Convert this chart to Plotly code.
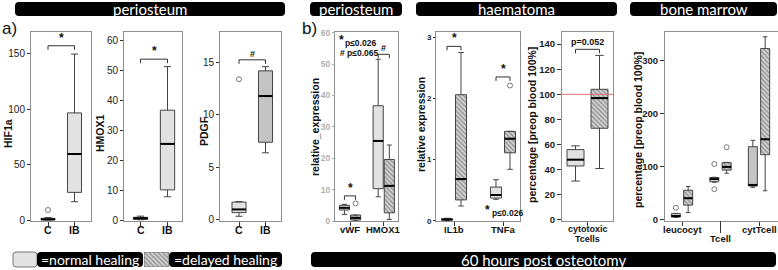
import plotly.graph_objects as go

W, H = 778, 270

# ---------------- data ----------------
# a) periosteum, C vs IB
a_cats = ["C", "IB"]
hif1a_lo = [0.0, 16.5]
hif1a_q1 = [0.2, 24.9]
hif1a_med = [0.6, 59.5]
hif1a_q3 = [1.5, 96.5]
hif1a_hi = [2.2, 149.5]
hif1a_out = [[9.0], []]

hmoxa_lo = [0.1, 7.8]
hmoxa_q1 = [0.2, 10.1]
hmoxa_med = [0.6, 25.5]
hmoxa_q3 = [0.9, 36.8]
hmoxa_hi = [1.3, 51.4]
hmoxa_out = [[], []]

pdgf_lo = [0.35, 6.4]
pdgf_q1 = [0.7, 7.4]
pdgf_med = [1.0, 11.8]
pdgf_q3 = [1.7, 14.2]
pdgf_hi = [1.75, 14.6]
pdgf_out = [[13.4], []]

# b) normal vs delayed healing
peri_cats = ["vWF", "HMOX1"]
peri_norm_lo = [2.1, 7.7]
peri_norm_q1 = [3.5, 10.3]
peri_norm_med = [4.2, 25.5]
peri_norm_q3 = [5.0, 36.7]
peri_norm_hi = [5.3, 51.5]
peri_norm_out = [[], []]
peri_del_lo = [0.1, 0.5]
peri_del_q1 = [0.3, 2.6]
peri_del_med = [1.0, 11.2]
peri_del_q3 = [1.9, 19.6]
peri_del_hi = [1.9, 24.2]
peri_del_out = [[5.6], []]

haem_cats = ["IL1b", "TNFa"]
haem_norm_lo = [0.0, 0.35]
haem_norm_q1 = [0.01, 0.37]
haem_norm_med = [0.02, 0.42]
haem_norm_q3 = [0.03, 0.55]
haem_norm_hi = [0.04, 0.67]
haem_norm_out = [[], []]
haem_del_lo = [0.24, 0.84]
haem_del_q1 = [0.34, 1.11]
haem_del_med = [0.68, 1.34]
haem_del_q3 = [2.06, 1.46]
haem_del_hi = [2.75, 1.46]
haem_del_out = [[], [2.21]]

cyto_cats = ["cytotoxic<br>Tcells"]
cyto_norm_lo = [31]
cyto_norm_q1 = [43]
cyto_norm_med = [48]
cyto_norm_q3 = [56]
cyto_norm_hi = [59]
cyto_norm_out = [[]]
cyto_del_lo = [41]
cyto_del_q1 = [73]
cyto_del_med = [97]
cyto_del_q3 = [104]
cyto_del_hi = [131]
cyto_del_out = [[]]

bm_cats = ["leucocyt", "Tcell", "cytTcell"]
bm_norm_lo = [5, 71, 61.5]
bm_norm_q1 = [5.5, 72, 64]
bm_norm_med = [7.5, 77, 66]
bm_norm_q3 = [12, 80, 138]
bm_norm_hi = [12.5, 80.5, 150]
bm_norm_out = [[23], [105.5, 58], []]
bm_del_lo = [14, 88, 55]
bm_del_q1 = [28, 94, 123]
bm_del_med = [41, 100, 152]
bm_del_q3 = [56, 108, 323]
bm_del_hi = [63, 108.5, 345]
bm_del_out = [[], [137], []]

# ---------------- layout helpers ----------------
def px(x):
    return x / W

def py(y):
    return 1 - y / H

TOP, BOT = 32, 221
YDOM = [py(BOT), py(TOP)]

fig = go.Figure()
layout = dict(
    width=W, height=H, margin=dict(l=0, r=0, t=0, b=0, pad=0),
    paper_bgcolor="white", plot_bgcolor="white", showlegend=False,
    barmode="overlay", boxmode="overlay",
    font=dict(family="Liberation Sans", color="#222"),
)
shapes, annos = [], []

FRAME = "#8f8f8f"
LIGHT = "#e2e2e2"
DARK = "#c4c4c4"
HATCH = dict(shape="\\", fgcolor="#4a4a4a", bgcolor="#d4d4d4", size=3.2, solidity=0.42)


def axis_names(i):
    return ("x" if i == 1 else f"x{i}"), ("y" if i == 1 else f"y{i}")


def xlabel(xa, x, text, ypx, size):
    annos.append(dict(x=x, y=py(ypx), xref=xa, yref="paper", text=f"<b>{text}</b>",
                      showarrow=False, xanchor="center", yanchor="middle",
                      font=dict(size=size, color="#111")))


def setup_axes(i, L, R, c0, s, yr, ytick, cats, tickbold=True, ycol="#222",
               xfs=10, yfs=10, yticklen=4, label_rows=None, line_gap=8.5):
    xa, ya = axis_names(i)
    tv = list(range(len(cats)))
    layout["xaxis" if i == 1 else f"xaxis{i}"] = dict(
        domain=[px(L), px(R)], range=[(L - c0) / s, (R - c0) / s], anchor=ya,
        showline=True, mirror=True, linecolor=FRAME, linewidth=1,
        showgrid=False, zeroline=False, ticks="outside", ticklen=4, tickcolor="#333",
        tickvals=tv, showticklabels=False, fixedrange=True, automargin=False,
    )
    layout["yaxis" if i == 1 else f"yaxis{i}"] = dict(
        domain=YDOM, range=yr, anchor=xa,
        showline=True, mirror=True, linecolor=FRAME, linewidth=1,
        showgrid=False, zeroline=False, ticks="outside", ticklen=yticklen,
        tickcolor=ycol if ycol != "#222" else "#333",
        tickvals=ytick, ticktext=[(f"<b>{t}</b>" if tickbold else str(t)) for t in ytick],
        tickfont=dict(size=yfs, color=ycol), fixedrange=True, automargin=False,
    )
    for k, c in enumerate(cats):
        rows = c.split("<br>")
        base = 229.5 if label_rows is None else label_rows[k]
        for r, t in enumerate(rows):
            xlabel(xa, k, t, base + r * line_gap, xfs if len(rows) == 1 else xfs - 0.5)
    return xa, ya, (BOT - TOP) / (yr[1] - yr[0])


def add_box(xa, ya, pos, w, lo, q1, med, q3, hi, out, style):
    if style == "hatch":
        fig.add_trace(go.Bar(
            x=[pos], y=[q3 - q1], base=[q1], width=[w], xaxis=xa, yaxis=ya,
            marker=dict(color="#d4d4d4", line=dict(width=0), pattern=HATCH),
            hoverinfo="skip"))
        fill = "rgba(0,0,0,0)"
    else:
        fill = LIGHT if style == "normal" else DARK
    fig.add_trace(go.Box(
        x=[pos], q1=[q1], median=[med], q3=[q3], lowerfence=[lo], upperfence=[hi],
        width=w, whiskerwidth=0.5, fillcolor=fill, xaxis=xa, yaxis=ya,
        line=dict(color="#444", width=1), boxpoints=False, hoverinfo="skip"))
    fig.add_trace(go.Scatter(
        x=[pos - w / 2, pos + w / 2], y=[med, med], mode="lines", xaxis=xa, yaxis=ya,
        line=dict(color="#000", width=2), hoverinfo="skip"))
    if out:
        fig.add_trace(go.Scatter(
            x=[pos] * len(out), y=out, mode="markers", xaxis=xa, yaxis=ya,
            marker=dict(symbol="circle-open", size=5, color="#777", line=dict(width=1)),
            hoverinfo="skip"))


def bracket(xa, ya, x0, x1, y, ppu, text, fs=12, dy=-1):
    leg = 4 / ppu
    shapes.append(dict(type="path", xref=xa, yref=ya,
                       path=f"M {x0},{y - leg} L {x0},{y} L {x1},{y} L {x1},{y - leg}",
                       line=dict(color="#333", width=1)))
    annos.append(dict(x=(x0 + x1) / 2, y=y, xref=xa, yref=ya, text=f"<b>{text}</b>",
                      showarrow=False, yanchor="bottom", yshift=dy,
                      font=dict(size=fs, color="#111")))


def ytitle(x, y, text, size=10.5):
    annos.append(dict(x=px(x), y=py(y), xref="paper", yref="paper", text=f"<b>{text}</b>",
                      textangle=-90, showarrow=False, xanchor="center", yanchor="middle",
                      font=dict(size=size, color="#111")))


def rrect(x0, y0, x1, y1, fill, r=4, line=None):
    rx, ry = r / W, r / H
    X0, X1, Y0, Y1 = px(x0), px(x1), py(y1), py(y0)
    path = (f"M {X0 + rx},{Y0} L {X1 - rx},{Y0} Q {X1},{Y0} {X1},{Y0 + ry} "
            f"L {X1},{Y1 - ry} Q {X1},{Y1} {X1 - rx},{Y1} L {X0 + rx},{Y1} "
            f"Q {X0},{Y1} {X0},{Y1 - ry} L {X0},{Y0 + ry} Q {X0},{Y0} {X0 + rx},{Y0} Z")
    shapes.append(dict(type="path", xref="paper", yref="paper", path=path,
                       fillcolor=fill, line=line or dict(width=0)))


def banner(x0, x1, y0, y1, text, size=15):
    rrect(x0, y0, x1, y1, "black")
    annos.append(dict(x=px((x0 + x1) / 2), y=py((y0 + y1) / 2), xref="paper", yref="paper",
                      text=text, showarrow=False, xanchor="center", yanchor="middle",
                      font=dict(family="Lato", size=size, color="white")))


# ---------------- panel a ----------------
a_specs = [
    (1, 31, 91, 48, 26.5, [-0.9, 169.4], [0, 50, 100, 150],
     (hif1a_lo, hif1a_q1, hif1a_med, hif1a_q3, hif1a_hi, hif1a_out), ["normal", "normal"], 157, "*", 12),
    (2, 124, 182, 140.5, 27, [-0.33, 63.0], [0, 10, 20, 30, 40, 50, 60],
     (hmoxa_lo, hmoxa_q1, hmoxa_med, hmoxa_q3, hmoxa_hi, hmoxa_out), ["normal", "normal"], 53.9, "*", 12),
    (3, 220, 281, 239, 26.5, [-0.1, 17.9], [0, 5, 10, 15],
     (pdgf_lo, pdgf_q1, pdgf_med, pdgf_q3, pdgf_hi, pdgf_out), ["normal", "dark"], 15.25, "#", 9),
]
for (i, L, R, c0, s, yr, yt, d, styles, by, bt, bfs) in a_specs:
    xa, ya, ppu = setup_axes(i, L, R, c0, s, yr, yt, a_cats, tickbold=False, xfs=10.5,
                             yfs=10, yticklen=3)
    for k in range(len(a_cats)):
        add_box(xa, ya, k, 0.53, d[0][k], d[1][k], d[2][k], d[3][k], d[4][k], d[5][k], styles[k])
    bracket(xa, ya, 0, 1, by, ppu, bt, bfs)

ytitle(8, 134, "HIF1a")
ytitle(100, 133, "HMOX1")
ytitle(204, 131, "PDGF")

# ---------------- panel b ----------------
b_specs = [
    (4, 335, 398, 350, 33.75, [0, 60.2], [0, 10, 20, 30, 40, 50, 60], peri_cats,
     (peri_norm_lo, peri_norm_q1, peri_norm_med, peri_norm_q3, peri_norm_hi, peri_norm_out),
     (peri_del_lo, peri_del_q1, peri_del_med, peri_del_q3, peri_del_hi, peri_del_out),
     0.165, 0.3, ["normal", "normal"], "#b0b0b0", 8.5, 2, None),
    (5, 436, 520, 454, 49, [-0.005, 3.085], [0, 1, 2, 3], haem_cats,
     (haem_norm_lo, haem_norm_q1, haem_norm_med, haem_norm_q3, haem_norm_hi, haem_norm_out),
     (haem_del_lo, haem_del_q1, haem_del_med, haem_del_q3, haem_del_hi, haem_del_out),
     0.143, 0.225, ["normal", "normal"], "#222", 8, 2, None),
    (6, 562, 613, 587.5, 50, [-0.8, 149.6], [0, 20, 40, 60, 80, 100, 120, 140], cyto_cats,
     (cyto_norm_lo, cyto_norm_q1, cyto_norm_med, cyto_norm_q3, cyto_norm_hi, cyto_norm_out),
     (cyto_del_lo, cyto_del_q1, cyto_del_med, cyto_del_q3, cyto_del_hi, cyto_del_out),
     0.24, 0.34, ["normal"], "#222", 9.5, 4, [229]),
    (7, 665, 778, 682, 38.5, [-1.9, 354], [0, 100, 200, 300], bm_cats,
     (bm_norm_lo, bm_norm_q1, bm_norm_med, bm_norm_q3, bm_norm_hi, bm_norm_out),
     (bm_del_lo, bm_del_q1, bm_del_med, bm_del_q3, bm_del_hi, bm_del_out),
     0.16, 0.234, ["normal", "normal", "dark"], "#222", 9.5, 4, [229.5, 238.5, 229.5]),
]
axes_b = {}
for (i, L, R, c0, s, yr, yt, cats, dn, dd, off, w, nstyles, ycol, yfs, ytl, rows) in b_specs:
    xa, ya, ppu = setup_axes(i, L, R, c0, s, yr, yt, cats, ycol=ycol, xfs=9.5,
                             yfs=yfs, yticklen=ytl, label_rows=rows, line_gap=9.5)
    axes_b[i] = (xa, ya, ppu, off)
    for k in range(len(cats)):
        add_box(xa, ya, k - off, w, dn[0][k], dn[1][k], dn[2][k], dn[3][k], dn[4][k], dn[5][k], nstyles[k])
        add_box(xa, ya, k + off, w, dd[0][k], dd[1][k], dd[2][k], dd[3][k], dd[4][k], dd[5][k], "hatch")

# significance brackets (b)
xa, ya, ppu, off = axes_b[4]
bracket(xa, ya, 0 - off, 0 + off, 8.0, ppu, "*", 12)
bracket(xa, ya, 1 - off, 1 + off, 53.1, ppu, "#", 9)
xa, ya, ppu, off = axes_b[5]
bracket(xa, ya, 0 - off, 0 + off, 2.85, ppu, "*", 12)
bracket(xa, ya, 1 - off, 1 + off, 2.35, ppu, "*", 12)
xa, ya, ppu, off = axes_b[6]
bracket(xa, ya, 0 - off, 0 + off, 135.8, ppu, "p=0.052", 9, dy=0)
shapes.append(dict(type="line", xref="x6 domain", yref="y6", x0=0, x1=1, y0=100, y1=100,
                   line=dict(color="#e07070", width=1)))
# long Tcell tick
shapes.append(dict(type="line", xref="x7", yref="paper", x0=1, x1=1, y0=py(221), y1=py(233),
                   line=dict(color="#333", width=1)))

# p-value notes
def note(x, y, text, size, anchor="left"):
    annos.append(dict(x=px(x), y=py(y), xref="paper", yref="paper", text=f"<b>{text}</b>",
                      showarrow=False, xanchor=anchor, yanchor="middle",
                      font=dict(size=size, color="#111")))

note(337, 40, "*", 12)
note(343, 43, "p≤0.026", 8.5)
note(338, 53, "# p≤0.065", 8.5)
note(483, 210, "*", 12)
note(490, 213, "p≤0.026", 8.5)

ytitle(315, 127, "relative_expression")
ytitle(421, 124, "relative expression")
ytitle(532, 125, "percentage [preop blood 100%]")
ytitle(638, 130, "percentage [preop blood 100%]")

# panel labels
annos.append(dict(x=px(0), y=py(29), xref="paper", yref="paper", text="a)", showarrow=False,
                  xanchor="left", yanchor="middle", font=dict(size=17, color="#111")))
annos.append(dict(x=px(300), y=py(29), xref="paper", yref="paper", text="b)", showarrow=False,
                  xanchor="left", yanchor="middle", font=dict(size=17, color="#111")))

# banners
banner(15, 285, 2, 16, "periosteum")
banner(310, 402, 2, 16, "periosteum")
banner(416, 617, 2, 16, "haematoma")
banner(630, 777, 2, 16, "bone marrow")
banner(311, 776, 252, 267, "60 hours post osteotomy")
# legend
rrect(13, 252, 37, 267, LIGHT, r=3, line=dict(color="#777", width=1))
banner(37, 143, 252, 267, "=normal healing", size=14)
banner(169, 282, 252, 267, "=delayed healing", size=14)
layout["xaxis8"] = dict(domain=[px(144), px(169)], range=[-0.5, 0.5], visible=False, fixedrange=True)
layout["yaxis8"] = dict(domain=[py(267), py(252)], range=[0, 1], visible=False, fixedrange=True)
fig.add_trace(go.Bar(x=[0], y=[1], width=[1], xaxis="x8", yaxis="y8",
                     marker=dict(color="#d4d4d4", line=dict(color="#777", width=1), pattern=HATCH),
                     hoverinfo="skip"))

layout["shapes"] = shapes
layout["annotations"] = annos
fig.update_layout(**layout)
fig.write_html("out.html", config={"displayModeBar": False},
               post_script="document.body.style.margin='0px';document.body.style.overflow='hidden';")
